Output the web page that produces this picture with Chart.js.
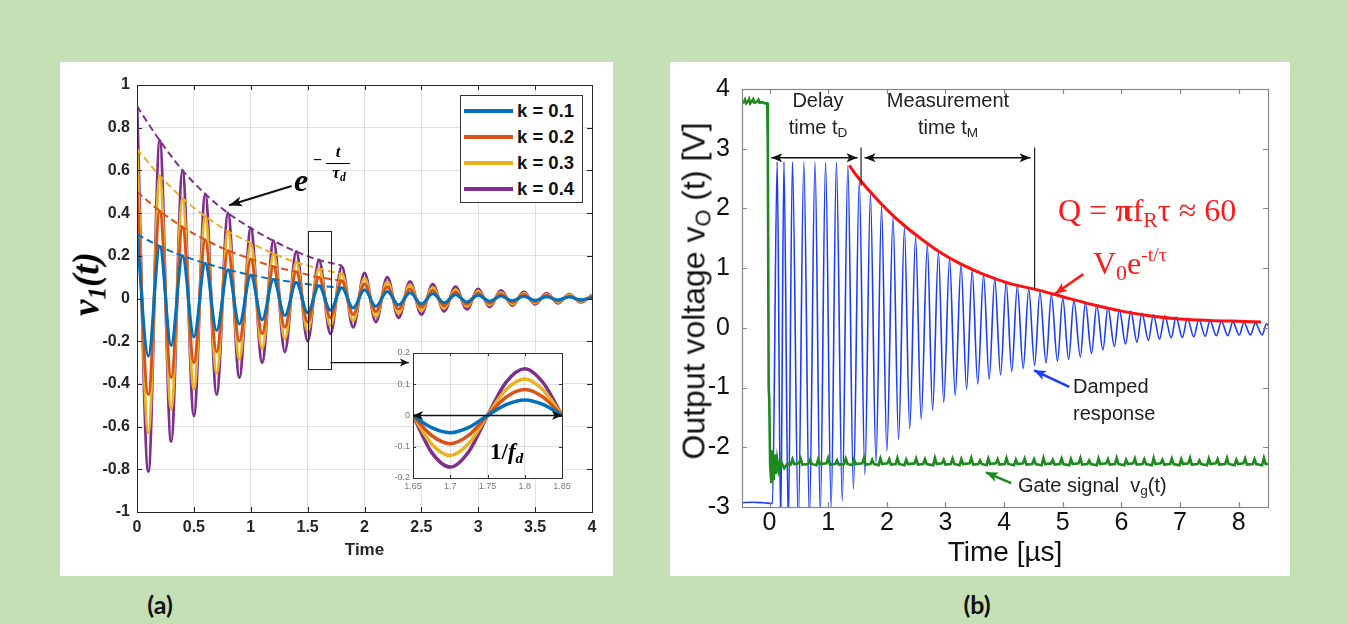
<!DOCTYPE html>
<html><head><meta charset="utf-8">
<script src="https://cdn.jsdelivr.net/npm/chart.js@4.4.0/dist/chart.umd.min.js"></script>
<style>
html,body{margin:0;padding:0;width:1348px;height:624px;overflow:hidden;background:#c5e0b4;font-family:"Liberation Sans",Arial,sans-serif;}
.panel{position:absolute;background:#fff;}
canvas{position:absolute;}
.t{position:absolute;white-space:nowrap;line-height:1;}
.c{transform:translate(-50%,-50%);}
.l{transform:translateY(-50%);}
sub{font-size:0.68em;vertical-align:-0.28em;line-height:0;}
sup{font-size:0.62em;vertical-align:0.62em;line-height:0;}
</style></head><body>
<div class="panel" style="left:60px;top:62px;width:553px;height:514px"></div>
<div class="panel" style="left:670px;top:62px;width:620px;height:514px"></div>
<canvas id="ca" width="553" height="514" style="left:60px;top:62px"></canvas>
<canvas id="ci" width="192" height="160" style="left:382px;top:343px"></canvas>
<canvas id="cb" width="620" height="514" style="left:670px;top:62px"></canvas>

<div id="legend" style="position:absolute;left:460px;top:95px;width:123px;height:108px;border:1px solid #333;background:#fff;box-sizing:border-box"></div>

<div class="t c" style="left:86px;top:284px;transform:translate(-50%,-50%) rotate(-90deg);font:bold italic 37px 'Liberation Serif'">v<sub>1</sub>(t)</div>
<div class="t" style="left:294px;top:162px;font:bold italic 32px 'Liberation Serif'">e</div>
<div class="t" style="left:313px;top:151px;font:bold 16px 'Liberation Serif'">−</div>
<div class="t" style="left:326px;top:142px;width:24px;text-align:center;font:bold italic 17px 'Liberation Serif';border-bottom:1.5px solid #000;padding-bottom:1px">t</div>
<div class="t" style="left:326px;top:163px;width:26px;text-align:center;font:bold italic 17px 'Liberation Serif'">τ<sub>d</sub></div>
<div class="t l" style="left:490px;top:452px;font:bold 23px 'Liberation Serif'">1/<i>f</i><sub><i>d</i></sub></div>

<div class="t c" style="left:694px;top:291px;transform:translate(-50%,-50%) rotate(-90deg);font:32px 'Liberation Sans';color:#111">Output voltage v<sub>O</sub> (t) [V]</div>
<div class="t c" style="left:818px;top:100px;font:20px 'Liberation Sans';color:#222">Delay</div>
<div class="t c" style="left:818px;top:127px;font:20px 'Liberation Sans';color:#222">time t<sub>D</sub></div>
<div class="t c" style="left:948px;top:100px;font:20px 'Liberation Sans';color:#222">Measurement</div>
<div class="t c" style="left:948px;top:127px;font:20px 'Liberation Sans';color:#222">time t<sub>M</sub></div>
<div class="t l" style="left:1058px;top:210px;font:32px 'Liberation Serif';color:#ff1a1a">Q = <b>π</b>f<sub>R</sub>τ ≈ 60</div>
<div class="t l" style="left:1093px;top:263px;font:32px 'Liberation Serif';color:#ff1a1a">V<sub>0</sub>e<sup>-t/τ</sup></div>
<div class="t l" style="left:1073px;top:386px;font:20px 'Liberation Sans';color:#222">Damped</div>
<div class="t l" style="left:1073px;top:413px;font:20px 'Liberation Sans';color:#222">response</div>
<div class="t l" style="left:1018px;top:485px;font:20px 'Liberation Sans';color:#222">Gate signal&nbsp; v<sub>g</sub>(t)</div>

<div class="t c" style="left:160px;top:604px;font:bold 25px Lato;color:#111">(a)</div>
<div class="t c" style="left:977px;top:604px;font:bold 25px Lato;color:#111">(b)</div>

<script>
// ---------- Panel (a) data ----------
const seriesNames = ['k = 0.1','k = 0.2','k = 0.3','k = 0.4'];
const colorsA = ['#0072BD','#D95319','#EDB120','#7E2F8E'];
const tA = [0,0.1,0.2,0.3,0.4,0.5,0.6,0.7,0.8,0.9,1.0,1.1,1.2,1.3,1.4,1.5,1.6,1.7,1.8,1.9,2.0,2.1,2.2,2.3,2.4,2.5,2.6,2.7,2.8,2.9,3.0,3.1,3.2,3.3,3.4,3.5,3.6,3.7,3.8,3.9,4.0];
const vK1 = [0.3,-0.27,0.245,-0.22,0.2,-0.18,0.165,-0.15,0.135,-0.12,0.11,-0.1,0.09,-0.08,0.075,-0.067,0.06,-0.055,0.05,-0.045,0.041,-0.037,0.033,-0.03,0.027,-0.025,0.022,-0.02,0.018,-0.016,0.015,-0.013,0.012,-0.011,0.01,-0.009,0.008,-0.007,0.007,-0.006,0.005];
const vK2 = [0.5,-0.45,0.41,-0.37,0.335,-0.3,0.275,-0.25,0.225,-0.2,0.185,-0.165,0.15,-0.135,0.125,-0.11,0.1,-0.09,0.083,-0.075,0.068,-0.061,0.055,-0.05,0.045,-0.041,0.037,-0.034,0.03,-0.027,0.025,-0.022,0.02,-0.018,0.017,-0.015,0.014,-0.012,0.011,-0.01,0.009];
const vK3 = [0.7,-0.63,0.575,-0.52,0.47,-0.425,0.385,-0.35,0.315,-0.285,0.26,-0.235,0.21,-0.19,0.17,-0.155,0.14,-0.128,0.117,-0.105,0.095,-0.085,0.077,-0.07,0.063,-0.057,0.052,-0.047,0.042,-0.038,0.035,-0.031,0.028,-0.026,0.023,-0.021,0.019,-0.017,0.016,-0.014,0.013];
const vK4 = [0.9,-0.81,0.74,-0.67,0.6,-0.55,0.49,-0.45,0.4,-0.37,0.33,-0.3,0.27,-0.25,0.22,-0.2,0.18,-0.165,0.15,-0.135,0.12,-0.11,0.1,-0.09,0.08,-0.075,0.067,-0.06,0.055,-0.05,0.045,-0.04,0.037,-0.033,0.03,-0.027,0.025,-0.022,0.02,-0.018,0.016];
const tEnv = [0,0.2,0.4,0.6,0.8,1.0,1.2,1.4,1.6,1.8];
const envK1 = [0.3,0.245,0.2,0.165,0.135,0.11,0.09,0.075,0.06,0.05];
const envK2 = [0.5,0.41,0.335,0.275,0.225,0.185,0.15,0.125,0.1,0.083];
const envK3 = [0.7,0.575,0.47,0.385,0.315,0.26,0.21,0.17,0.14,0.115];
const envK4 = [0.9,0.74,0.6,0.49,0.4,0.33,0.27,0.22,0.18,0.155];
const xTicksA = [0,0.5,1,1.5,2,2.5,3,3.5,4];
const xTickLabelsA = ['0','0.5','1','1.5','2','2.5','3','3.5','4'];
const yTicksA = [-1,-0.8,-0.6,-0.4,-0.2,0,0.2,0.4,0.6,0.8,1];
const yTickLabelsA = ['-1','-0.8','-0.6','-0.4','-0.2','0','0.2','0.4','0.6','0.8','1'];
// inset
const tIn = [1.65,1.675,1.7,1.725,1.75,1.775,1.8,1.825,1.85];
const inK1 = [0,-0.039,-0.055,-0.038,0,0.035,0.05,0.035,0];
const inK2 = [0,-0.064,-0.09,-0.063,0,0.059,0.083,0.058,0];
const inK3 = [0,-0.091,-0.128,-0.089,0,0.083,0.117,0.081,0];
const inK4 = [0,-0.118,-0.165,-0.115,0,0.107,0.15,0.104,0];
const xTicksIn = [1.65,1.7,1.75,1.8,1.85];
const xTickLabelsIn = ['1.65','1.7','1.75','1.8','1.85'];
const yTicksIn = [-0.2,-0.1,0,0.1,0.2];
const yTickLabelsIn = ['-0.2','-0.1','0','0.1','0.2'];

// ---------- Panel (b) data ----------
const dampedResponse = [
[-0.47,-2.93],[-0.3,-2.92],[-0.1,-2.93],[0.05,-2.94],[0.13,2.78],[0.19,-3.3],[0.245,2.78],[0.32,-3.3],
[0.39,2.78],[0.49,-3.25],[0.585,2.78],[0.68,-3.2],[0.775,2.78],[0.865,-3.1],[0.955,2.78],[1.05,-3.02],
[1.14,2.78],[1.24,-2.9],[1.335,2.72],[1.43,-2.7],[1.53,2.46],[1.625,-2.46],[1.72,2.24],[1.815,-2.25],
[1.91,2.03],[2.0,-2.06],[2.105,1.84],[2.2,-1.87],[2.3,1.67],[2.39,-1.69],[2.49,1.52],[2.585,-1.53],
[2.69,1.39],[2.78,-1.38],[2.88,1.27],[2.97,-1.25],[3.07,1.16],[3.165,-1.13],[3.265,1.06],[3.36,-1.03],
[3.455,0.97],[3.55,-0.94],[3.65,0.89],[3.745,-0.86],[3.84,0.82],[3.94,-0.79],[4.035,0.76],[4.13,-0.73],
[4.225,0.7],[4.325,-0.68],[4.42,0.65],[4.52,-0.63],[4.61,0.6],[4.715,-0.59],[4.805,0.55],[4.91,-0.56],
[5.0,0.5],[5.1,-0.53],[5.19,0.46],[5.3,-0.49],[5.385,0.42],[5.49,-0.43],[5.58,0.38],[5.685,-0.37],
[5.77,0.34],[5.88,-0.31],[5.965,0.31],[6.07,-0.27],[6.16,0.28],[6.265,-0.24],[6.35,0.25],[6.46,-0.21],
[6.545,0.22],[6.65,-0.19],[6.74,0.2],[6.85,-0.17],[6.93,0.18],[7.04,-0.16],[7.125,0.16],[7.235,-0.15],
[7.32,0.14],[7.43,-0.14],[7.51,0.12],[7.62,-0.13],[7.705,0.11],[7.815,-0.13],[7.9,0.1],[8.01,-0.12],
[8.09,0.09],[8.2,-0.12],[8.285,0.08],[8.4,-0.12],[8.475,0.07],[8.58,-0.13]
];
const gateSignal = [
[-0.47,3.76],[-0.44,3.78],[-0.42,3.82],[-0.4,3.76],[-0.37,3.79],[-0.35,3.83],[-0.33,3.76],[-0.3,3.8],
[-0.28,3.83],[-0.26,3.77],[-0.22,3.78],[-0.19,3.82],[-0.17,3.77],[-0.12,3.78],[-0.08,3.76],[-0.04,3.76],
[-0.03,3.05],[-0.015,-1.0],[-0.005,-1.2],[0.01,-2.3],[0.03,-2.6],[0.05,-2.05],[0.07,-2.55],[0.09,-2.12],
[0.11,-2.45],[0.13,-2.2],[0.16,-2.4],[0.2,-2.25],[0.25,-2.35],[0.3,-2.28],
[0.36,-2.29],[0.39,-2.2],[0.42,-2.28],[0.5,-2.27],[0.53,-2.19],[0.56,-2.29],[0.66,-2.28],[0.69,-2.21],[0.72,-2.28],
[0.8,-2.3],[0.83,-2.2],[0.86,-2.28],[0.97,-2.27],[1.0,-2.18],[1.03,-2.29],[1.12,-2.28],[1.15,-2.22],[1.18,-2.29],
[1.27,-2.28],[1.3,-2.19],[1.33,-2.28],[1.41,-2.3],[1.44,-2.2],[1.47,-2.28],[1.58,-2.27],[1.61,-2.18],[1.64,-2.29],
[1.72,-2.28],[1.75,-2.21],[1.78,-2.28],[1.86,-2.3],[1.89,-2.19],[1.92,-2.28],[2.01,-2.27],[2.04,-2.2],[2.07,-2.29],
[2.15,-2.28],[2.18,-2.18],[2.21,-2.28],[2.3,-2.3],[2.33,-2.21],[2.36,-2.28],[2.47,-2.27],[2.5,-2.19],[2.53,-2.29],
[2.62,-2.28],[2.65,-2.2],[2.68,-2.28],[2.79,-2.3],[2.82,-2.18],[2.85,-2.28],[2.94,-2.27],[2.97,-2.21],[3.0,-2.29],
[3.09,-2.28],[3.12,-2.19],[3.15,-2.28],[3.24,-2.3],[3.27,-2.2],[3.3,-2.28],[3.41,-2.27],[3.44,-2.18],[3.47,-2.29],
[3.56,-2.28],[3.59,-2.22],[3.62,-2.28],[3.7,-2.3],[3.73,-2.19],[3.76,-2.28],[3.86,-2.27],[3.89,-2.2],[3.92,-2.29],
[4.01,-2.28],[4.04,-2.18],[4.07,-2.28],[4.17,-2.3],[4.2,-2.21],[4.23,-2.28],[4.32,-2.27],[4.35,-2.19],[4.38,-2.29],
[4.48,-2.28],[4.51,-2.2],[4.54,-2.28],[4.64,-2.3],[4.67,-2.18],[4.7,-2.28],[4.8,-2.27],[4.83,-2.21],[4.86,-2.29],
[4.95,-2.28],[4.98,-2.19],[5.01,-2.28],[5.11,-2.3],[5.14,-2.2],[5.17,-2.28],[5.27,-2.27],[5.3,-2.18],[5.33,-2.29],
[5.42,-2.28],[5.45,-2.22],[5.48,-2.28],[5.58,-2.3],[5.61,-2.19],[5.64,-2.28],[5.74,-2.27],[5.77,-2.2],[5.8,-2.29],
[5.89,-2.28],[5.92,-2.18],[5.95,-2.28],[6.05,-2.3],[6.08,-2.21],[6.11,-2.28],[6.2,-2.27],[6.23,-2.19],[6.26,-2.29],
[6.36,-2.28],[6.39,-2.2],[6.42,-2.28],[6.52,-2.3],[6.55,-2.18],[6.58,-2.28],[6.67,-2.27],[6.7,-2.21],[6.73,-2.29],
[6.83,-2.28],[6.86,-2.19],[6.89,-2.28],[6.99,-2.3],[7.02,-2.2],[7.05,-2.28],[7.14,-2.27],[7.17,-2.18],[7.2,-2.29],
[7.3,-2.28],[7.33,-2.22],[7.36,-2.28],[7.46,-2.3],[7.49,-2.19],[7.52,-2.28],[7.61,-2.27],[7.64,-2.2],[7.67,-2.29],
[7.77,-2.28],[7.8,-2.18],[7.83,-2.28],[7.93,-2.3],[7.96,-2.21],[7.99,-2.28],[8.08,-2.27],[8.11,-2.19],[8.14,-2.29],
[8.24,-2.28],[8.27,-2.2],[8.3,-2.28],[8.4,-2.3],[8.43,-2.18],[8.46,-2.28],[8.55,-2.28]
];
const envelopeFit = [
[1.36,2.72],[1.5,2.53],[1.75,2.24],[2.0,1.98],[2.3,1.71],[2.6,1.48],[2.9,1.27],[3.2,1.1],[3.5,0.96],
[3.8,0.84],[4.1,0.74],[4.55,0.64],[5.0,0.52],[5.5,0.39],[6.0,0.28],[6.5,0.2],[7.0,0.15],[7.5,0.125],
[8.0,0.11],[8.38,0.1]
];
const xTicksB = [0,1,2,3,4,5,6,7,8];
const xTickLabelsB = ['0','1','2','3','4','5','6','7','8'];
const yTicksB = [-3,-2,-1,0,1,2,3,4];
const yTickLabelsB = ['-3','-2','-1','0','1','2','3','4'];

// ---------- helpers ----------
function arrowHead(ctx,x1,y1,x2,y2,len,half){
  const a=Math.atan2(y2-y1,x2-x1);
  ctx.beginPath();
  ctx.moveTo(x2,y2);
  ctx.lineTo(x2-len*Math.cos(a)+half*Math.sin(a), y2-len*Math.sin(a)-half*Math.cos(a));
  ctx.lineTo(x2-len*0.75*Math.cos(a), y2-len*0.75*Math.sin(a));
  ctx.lineTo(x2-len*Math.cos(a)-half*Math.sin(a), y2-len*Math.sin(a)+half*Math.cos(a));
  ctx.closePath(); ctx.fill();
}
function arrow(ctx,x1,y1,x2,y2,o){
  ctx.save();
  ctx.strokeStyle=o.color; ctx.fillStyle=o.color; ctx.lineWidth=o.width;
  ctx.beginPath(); ctx.moveTo(x1,y1); ctx.lineTo(x2,y2); ctx.stroke();
  arrowHead(ctx,x1,y1,x2,y2,o.len,o.half);
  if(o.both) arrowHead(ctx,x2,y2,x1,y1,o.len,o.half);
  ctx.restore();
}
const matBox = {
  id:'matbox',
  afterDatasetsDraw(chart,args,o){
    const {ctx,chartArea:a,scales:{x,y}} = chart;
    ctx.save(); ctx.strokeStyle=o.color; ctx.lineWidth=o.width;
    ctx.beginPath();
    x.ticks.forEach(t=>{const p=Math.round(x.getPixelForValue(t.value))+0.5;
      ctx.moveTo(p,a.bottom); ctx.lineTo(p,a.bottom-o.len); ctx.moveTo(p,a.top); ctx.lineTo(p,a.top+o.len);});
    y.ticks.forEach(t=>{const p=Math.round(y.getPixelForValue(t.value))+0.5;
      ctx.moveTo(a.left,p); ctx.lineTo(a.left+o.len,p); ctx.moveTo(a.right,p); ctx.lineTo(a.right-o.len,p);});
    ctx.stroke();
    ctx.strokeRect(Math.round(a.left)+0.5,Math.round(a.top)+0.5,Math.round(a.width),Math.round(a.height));
    ctx.restore();
  }
};
const whiteArea = {
  id:'whitearea',
  beforeDraw(chart){const {ctx,chartArea:a}=chart; ctx.save(); ctx.fillStyle='#fff'; ctx.fillRect(a.left,a.top,a.width,a.height); ctx.restore();}
};
function fixedTicks(vals){return s=>{s.ticks=vals.map(v=>({value:v}));};}
function pairsToXY(p){return p.map(d=>({x:d[0],y:d[1]}));}
function zipXY(xs,ys){return xs.map((x,i)=>({x:x,y:ys[i]}));}

// ---------- Chart (a) ----------
const fontA = {family:'Liberation Sans',size:16,weight:'bold'};
const curvesA = [vK1,vK2,vK3,vK4];
const envsA = [envK1,envK2,envK3,envK4];
const dsA = [];
envsA.forEach((e,i)=>dsA.push({data:zipXY(tEnv,e),borderColor:colorsA[i],borderWidth:2,borderDash:[7,4],pointRadius:0,cubicInterpolationMode:'monotone',order:0}));
curvesA.forEach((c,i)=>dsA.push({label:seriesNames[i],data:zipXY(tA,c),borderColor:colorsA[i],borderWidth:3,pointRadius:0,cubicInterpolationMode:'monotone',order:i+1}));

const annA = {
  id:'annA',
  afterDatasetsDraw(chart){
    const {ctx,scales:{x,y}} = chart;
    ctx.save();
    ctx.strokeStyle='#222'; ctx.lineWidth=1;
    const x1=x.getPixelForValue(1.5), x2=x.getPixelForValue(1.7), y1=y.getPixelForValue(0.315), y2=y.getPixelForValue(-0.33);
    ctx.strokeRect(Math.round(x1)+0.5,Math.round(y1)+0.5,Math.round(x2-x1),Math.round(y2-y1));
    ctx.restore();
    arrow(ctx,x2,y.getPixelForValue(-0.3),x.getPixelForValue(2.39),y.getPixelForValue(-0.3),{color:'#111',width:1.2,len:9,half:4});
    arrow(ctx,x.getPixelForValue(1.36),y.getPixelForValue(0.527),x.getPixelForValue(0.81),y.getPixelForValue(0.437),{color:'#111',width:2,len:13,half:5});
  }
};

new Chart(document.getElementById('ca'),{
  type:'line',
  data:{datasets:dsA},
  plugins:[matBox,annA],
  options:{
    responsive:false,animation:false,devicePixelRatio:1,
    layout:{padding:{top:23,right:21,bottom:0,left:0}},
    plugins:{legend:{display:false},tooltip:{enabled:false},matbox:{color:'#262626',width:1,len:5}},
    scales:{
      x:{type:'linear',min:0,max:4,afterBuildTicks:fixedTicks(xTicksA),afterFit:s=>{s.height=64;},
        grid:{color:'rgba(0,0,0,0.12)',drawTicks:false},border:{display:false},
        ticks:{font:fontA,color:'#262626',padding:6,maxRotation:0,autoSkip:false,callback:(v,i)=>xTickLabelsA[i]},
        title:{display:true,text:'Time',font:{family:'Liberation Sans',size:17,weight:'bold'},color:'#262626',padding:{top:0,bottom:15}}},
      y:{type:'linear',min:-1,max:1,afterBuildTicks:fixedTicks(yTicksA),afterFit:s=>{s.width=77;},
        grid:{color:'rgba(0,0,0,0.12)',drawTicks:false},border:{display:false},
        ticks:{font:fontA,color:'#262626',padding:7,autoSkip:false,callback:(v,i)=>yTickLabelsA[i]}}
    }
  }
});

// ---------- Inset ----------
const curvesIn=[inK1,inK2,inK3,inK4];
const annIn = {
  id:'annIn',
  afterDatasetsDraw(chart){
    const {ctx,scales:{x,y}} = chart;
    arrow(ctx,x.getPixelForValue(1.65),y.getPixelForValue(0),x.getPixelForValue(1.85),y.getPixelForValue(0),{color:'#111',width:1.6,len:10,half:4.5,both:true});
  }
};
const fontIn={family:'Liberation Sans',size:9};
new Chart(document.getElementById('ci'),{
  type:'line',
  data:{datasets:curvesIn.map((c,i)=>({data:zipXY(tIn,c),borderColor:colorsA[i],borderWidth:3.5,pointRadius:0,cubicInterpolationMode:'monotone',order:i}))},
  plugins:[whiteArea,matBox,annIn],
  options:{
    responsive:false,animation:false,devicePixelRatio:1,
    layout:{padding:{top:10,right:12,bottom:0,left:0}},
    plugins:{legend:{display:false},tooltip:{enabled:false},matbox:{color:'#333',width:1,len:3}},
    scales:{
      x:{type:'linear',min:1.65,max:1.85,afterBuildTicks:fixedTicks(xTicksIn),afterFit:s=>{s.height=25;},
        grid:{color:'rgba(0,0,0,0.12)',drawTicks:false},border:{display:false},
        ticks:{font:fontIn,color:'#777',padding:3,maxRotation:0,autoSkip:false,callback:(v,i)=>xTickLabelsIn[i]}},
      y:{type:'linear',min:-0.2,max:0.2,afterBuildTicks:fixedTicks(yTicksIn),afterFit:s=>{s.width=31;},
        grid:{color:'rgba(0,0,0,0.12)',drawTicks:false},border:{display:false},
        ticks:{font:fontIn,color:'#777',padding:3,autoSkip:false,callback:(v,i)=>yTickLabelsIn[i]}}
    }
  }
});

// legend (a)
const leg=document.getElementById('legend');
seriesNames.forEach((n,i)=>{
  const ln=document.createElement('div');
  ln.style.cssText=`position:absolute;left:3px;top:${13+i*26}px;width:49px;height:4px;background:${colorsA[i]}`;
  leg.appendChild(ln);
  const tx=document.createElement('div');
  tx.className='t';
  tx.style.cssText+=`left:56px;top:${15+i*26}px;transform:translateY(-50%);font:bold 18.5px 'Liberation Sans';color:#111`;
  tx.textContent=n; leg.appendChild(tx);
});

// ---------- Chart (b) ----------
const fontB={family:'Liberation Sans',size:25};
const annB = {
  id:'annB',
  afterDatasetsDraw(chart){
    const {ctx,scales:{x,y}} = chart;
    const P=(t,v)=>[x.getPixelForValue(t),y.getPixelForValue(v)];
    const blk={color:'#111',width:1.5,len:11,half:4.5,both:true};
    let a=P(0.03,2.85), b=P(1.5,2.85); arrow(ctx,a[0],a[1],b[0],b[1],blk);
    a=P(1.62,2.85); b=P(4.45,2.85); arrow(ctx,a[0],a[1],b[0],b[1],blk);
    ctx.save(); ctx.strokeStyle='#222'; ctx.lineWidth=1.2; ctx.beginPath();
    a=P(1.56,3.02); b=P(1.56,2.38); ctx.moveTo(a[0],a[1]); ctx.lineTo(b[0],b[1]);
    a=P(4.52,3.02); b=P(4.52,0.66); ctx.moveTo(a[0],a[1]); ctx.lineTo(b[0],b[1]);
    ctx.stroke(); ctx.restore();
    a=P(5.35,0.9); b=P(4.87,0.57); arrow(ctx,a[0],a[1],b[0],b[1],{color:'#ff1a1a',width:2.5,len:12,half:5});
    a=P(5.11,-0.99); b=P(4.51,-0.71); arrow(ctx,a[0],a[1],b[0],b[1],{color:'#1a3cff',width:2.5,len:12,half:5});
    a=P(4.12,-2.6); b=P(3.69,-2.42); arrow(ctx,a[0],a[1],b[0],b[1],{color:'#1d8a1d',width:2.5,len:12,half:5});
  }
};
new Chart(document.getElementById('cb'),{
  type:'line',
  data:{datasets:[
    {data:pairsToXY(envelopeFit),borderColor:'#ff1010',borderWidth:3,pointRadius:0,cubicInterpolationMode:'monotone',order:0},
    {data:pairsToXY(gateSignal),borderColor:'#1d8a1d',borderWidth:2.6,pointRadius:0,tension:0,order:1},
    {data:pairsToXY(dampedResponse),borderColor:'#1a3cff',borderWidth:1.6,pointRadius:0,cubicInterpolationMode:'monotone',order:2}
  ]},
  plugins:[matBox,annB],
  options:{
    responsive:false,animation:false,devicePixelRatio:1,
    layout:{padding:{top:20,right:22,bottom:0,left:0}},
    plugins:{legend:{display:false},tooltip:{enabled:false},matbox:{color:'#888',width:1.2,len:5}},
    scales:{
      x:{type:'linear',min:-0.47,max:8.5,afterBuildTicks:fixedTicks(xTicksB),afterFit:s=>{s.height=69;},
        grid:{display:false,drawTicks:false},border:{display:false},
        ticks:{font:fontB,color:'#111',padding:1,maxRotation:0,autoSkip:false,callback:(v,i)=>xTickLabelsB[i]},
        title:{display:true,text:'Time [µs]',font:{family:'Liberation Sans',size:28},color:'#111',padding:{top:0,bottom:6}}},
      y:{type:'linear',min:-3,max:4,afterBuildTicks:fixedTicks(yTicksB),afterFit:s=>{s.width=72;},
        grid:{display:false,drawTicks:false},border:{display:false},
        ticks:{font:fontB,color:'#111',padding:12,autoSkip:false,callback:(v,i)=>yTickLabelsB[i]}}
    }
  }
});
</script>
</body></html>
